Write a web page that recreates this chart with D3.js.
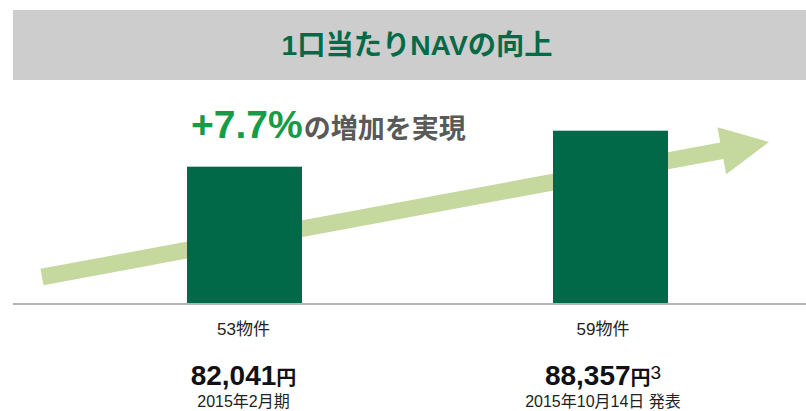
<!DOCTYPE html>
<html><head><meta charset="utf-8">
<script src="https://cdn.jsdelivr.net/npm/d3@7"></script>
<style>
html,body{margin:0;padding:0;background:#fff;}
svg{display:block;}
text{font-family:"Liberation Sans",Arial,"Noto Sans CJK JP",sans-serif;}
</style></head>
<body>
<script>
// ---- data ----
const title = "1口当たりNAVの向上";
const categories = ["2015年2月期", "2015年10月14日 発表"];
const navValues = [82041, 88357];
const navLabels = ["82,041", "88,357"];
const propertyCounts = ["53物件", "59物件"];
const footnotes = ["", "3"];
const growthLabel = "+7.7%";
const growthSuffix = "の増加を実現";

const W = 806, H = 411;
const svg = d3.select("body").append("svg").attr("width", W).attr("height", H);

// header band
svg.append("rect").attr("x", 13).attr("y", 10).attr("width", W - 13).attr("height", 70).attr("fill", "#cdcdcd");
svg.append("text").attr("x", 417).attr("y", 55).attr("text-anchor", "middle")
  .attr("font-size", 28).attr("font-weight", "bold").attr("fill", "#036a48")
  .attr("font-family", "'Noto Sans CJK JP','Liberation Sans',sans-serif")
  .attr("textLength", 271).attr("lengthAdjust", "spacingAndGlyphs")
  .text(title);

// scales
const x = d3.scaleBand().domain(categories).range([61.5, 793.5]).paddingInner(0.6858).paddingOuter(0.3429);
const y = d3.scaleLinear().domain([58117, 88357]).range([303, 130.7]);
const labelX = d3.scalePoint().domain(categories).range([243.5, 603]);

// arrow (decorative trend)
const tail = [42, 277], tip = [769, 142];
const dx = tip[0] - tail[0], dy = tip[1] - tail[1], L = Math.hypot(dx, dy);
const u = [dx / L, dy / L], n = [-u[1], u[0]];
const sw = 8.3, hl = 48, hw = 24;
const base = [tip[0] - hl * u[0], tip[1] - hl * u[1]];
const P = (p, k, v) => [p[0] + k * v[0], p[1] + k * v[1]];
const arrowPts = [P(tail, -sw, n), P(base, -sw, n), P(base, -hw, n), tip, P(base, hw, n), P(base, sw, n), P(tail, sw, n)];
svg.append("path").attr("d", d3.line()(arrowPts) + "Z").attr("fill", "#c5d89d");

// bars
svg.selectAll("rect.bar").data(categories).enter().append("rect").attr("class", "bar")
  .attr("x", d => x(d)).attr("width", x.bandwidth())
  .attr("y", (d, i) => y(navValues[i])).attr("height", (d, i) => y.range()[0] - y(navValues[i]))
  .attr("fill", "#016848");

// baseline
svg.append("line").attr("x1", 13).attr("x2", W).attr("y1", 304).attr("y2", 304)
  .attr("stroke", "#b4b4b4").attr("stroke-width", 2);

// growth annotation
const g = svg.append("text").attr("x", 191).attr("y", 138).attr("font-weight", "bold");
g.append("tspan").attr("font-size", 39).attr("fill", "#169b47").text(growthLabel);
g.append("tspan").attr("font-size", 27).attr("fill", "#595959")
  .attr("font-family", "'Noto Sans CJK JP',sans-serif").attr("dx", 1).text(growthSuffix);

// labels under bars
categories.forEach((c, i) => {
  const cx = labelX(c);
  svg.append("text").attr("x", cx).attr("y", 335).attr("text-anchor", "middle")
    .attr("font-size", 17).attr("fill", "#222").text(propertyCounts[i]);
  const v = svg.append("text").attr("x", cx).attr("y", 385).attr("text-anchor", "middle")
    .attr("font-weight", "bold").attr("fill", "#111");
  v.append("tspan").attr("font-size", 28).text(navLabels[i]);
  v.append("tspan").attr("font-size", 20).text("円");
  if (footnotes[i]) v.append("tspan").attr("font-size", 19).attr("font-weight", "normal").attr("dy", -6).text(footnotes[i]);
  svg.append("text").attr("x", cx).attr("y", 407).attr("text-anchor", "middle")
    .attr("font-size", 16).attr("fill", "#222").text(c);
});
</script>
</body></html>
